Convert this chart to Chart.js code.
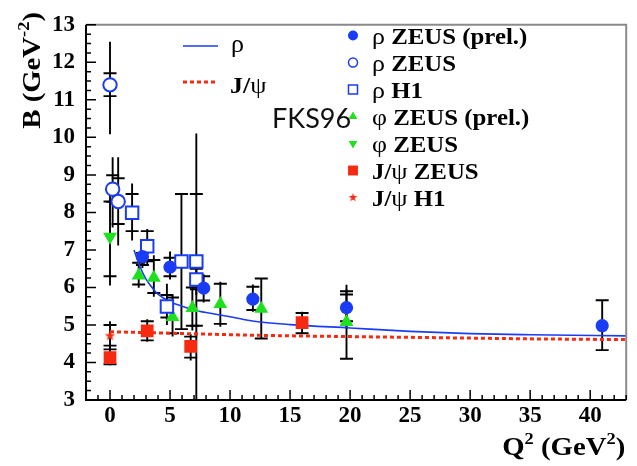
<!DOCTYPE html>
<html>
<head>
<meta charset="utf-8">
<script src="https://cdn.jsdelivr.net/npm/chart.js@4.4.1/dist/chart.umd.min.js"></script>
<style>
  html, body { margin: 0; padding: 0; background: #fff; }
  canvas { display: block; }
</style>
</head>
<body>
<canvas id="chart" width="637" height="466"></canvas>
<script>
const xTicks = [0, 5, 10, 15, 20, 25, 30, 35, 40]
const yTicks = [3, 4, 5, 6, 7, 8, 9, 10, 11, 12, 13]

// error intervals are [low, high] in B, stat = inner ticks, tot = full bar
const rhoPrelQ2 = [2.7, 5.0, 7.8, 11.9, 19.7, 41.0]
const rhoPrelB = [6.82, 6.54, 5.98, 5.69, 5.46, 4.98]
const rhoPrelStat = [[6.6, 6.92], [6.3, 6.79], [5.65, 6.3], [5.4, 6.02], [5.1, 5.81], [4.33, 5.66]]
const rhoPrelTot = [[6.52, 6.96], [6.21, 6.96], [5.6, 6.35], [5.35, 6.08], [4.9, 6.07], [4.33, 5.66]]

const rhoZeusQ2 = [0, 0.22, 0.68]
const rhoZeusB = [11.4, 8.62, 8.29]
const rhoZeusStat = [[11.1, 11.71], [8.28, 8.99], [7.69, 8.91]]
const rhoZeusTot = [[10.08, 12.55], [7.6, 9.47], [7.12, 9.47]]

const rhoH1Q2 = [1.84, 3.1, 4.74, 5.95, 7.19, 7.19]
const rhoH1B = [7.99, 7.1, 5.49, 6.69, 6.69, 6.21]
const rhoH1Stat = [[7.5, 8.49], [6.7, 7.5], [5.2, 5.8], [4.89, 8.49], [4.98, 8.49], [5.95, 6.5]]
const rhoH1Tot = [[7.25, 8.77], [6.6, 7.56], [5.0, 6.1], [4.89, 8.49], [2.5, 10.1], [5.8, 6.6]]

const phiPrelQ2 = [2.39, 3.65, 5.21, 6.86, 9.19, 12.6, 19.7]
const phiPrelB = [6.32, 6.26, 5.21, 5.45, 5.56, 5.43, 5.08]
const phiPrelStat = [[6.08, 6.66], [5.85, 6.73], [4.78, 5.73], [4.98, 6.0], [5.03, 6.1], [4.64, 6.24], [4.1, 5.9]]
const phiPrelTot = [[5.99, 6.75], [5.75, 6.86], [4.69, 5.8], [4.85, 6.13], [4.95, 6.15], [4.64, 6.24], [4.1, 5.95]]

const phiZeusQ2 = [0]
const phiZeusB = [7.35]
const phiZeusStat = [[6.3, 8.29]]
const phiZeusTot = [[6.05, 8.5]]

const jpsiZeusQ2 = [0, 3.1, 6.72, 16.0]
const jpsiZeusB = [4.13, 4.84, 4.43, 5.06]
const jpsiZeusStat = [[3.95, 4.35], [4.59, 5.1], [4.13, 4.69], [4.78, 5.32]]
const jpsiZeusTot = [[3.92, 4.4], [4.55, 5.15], [4.05, 4.75], [4.75, 5.35]]

const jpsiH1Q2 = [0]
const jpsiH1B = [4.71]
const jpsiH1Stat = [[4.45, 5.0]]
const jpsiH1Tot = [[4.35, 5.1]]

// FKS96 curves
const rhoFitQ2 = [2.0, 2.5, 3.0, 3.5, 4.0, 5.0, 6.0, 7.0, 8.0, 10.0, 12.0, 15.0, 20.0, 25.0, 30.0, 35.0, 43.0]
const rhoFitB = [7.0, 6.55, 6.22, 6.0, 5.82, 5.62, 5.5, 5.4, 5.33, 5.22, 5.1, 5.01, 4.92, 4.83, 4.77, 4.74, 4.71]
const jpsiFitQ2 = [0, 5, 10, 15, 20, 25, 30, 35, 43]
const jpsiFitB = [4.82, 4.78, 4.74, 4.71, 4.69, 4.67, 4.65, 4.63, 4.61]

const blue = '#1a3cf5'
const green = '#1ee01e'
const red = '#f52a10'

const serifB = s => `bold ${s}px "Liberation Serif", "DejaVu Serif", serif`
const serifN = s => `${s}px "Liberation Serif", "DejaVu Serif", serif`

function pts(q, b) {
    return q.map((x, i) => ({x: x, y: b[i]}))
}

function makeStar(r, color) {
    const c = document.createElement('canvas')
    c.width = c.height = Math.ceil(r * 2 + 2)
    const g = c.getContext('2d')
    g.fillStyle = color
    g.beginPath()
    for (let k = 0; k < 10; k++) {
        const rr = k % 2 ? r * 0.42 : r
        const ang = -Math.PI / 2 + k * Math.PI / 5
        g.lineTo(c.width / 2 + rr * Math.cos(ang), c.height / 2 + rr * Math.sin(ang))
    }
    g.closePath()
    g.fill()
    return c
}

// draw a row of text pieces with different fonts, stretched by sx
function drawRuns(ctx, runs, x, y, align, sx) {
    sx = sx || 1
    let w = 0
    runs.forEach(r => { ctx.font = r.font; w += ctx.measureText(r.text).width })
    ctx.save()
    ctx.translate(align === 'right' ? x - w * sx : x, y)
    ctx.scale(sx, 1)
    ctx.textAlign = 'left'
    ctx.textBaseline = 'alphabetic'
    let cx = 0
    runs.forEach(r => {
        ctx.font = r.font
        ctx.fillText(r.text, cx, r.dy || 0)
        cx += ctx.measureText(r.text).width
    })
    ctx.restore()
}

const errorBars = {
    id: 'errorBars',
    beforeDatasetsDraw(chart) {
        const {ctx, chartArea: a, scales: {x, y}} = chart
        ctx.save()
        ctx.beginPath()
        ctx.rect(a.left, a.top, a.right - a.left, a.bottom - a.top)
        ctx.clip()
        ctx.strokeStyle = '#000'
        ctx.lineWidth = 1.9
        chart.data.datasets.forEach(ds => {
            if (!ds.stat) return
            ds.data.forEach((p, i) => {
                const px = x.getPixelForValue(p.x)
                ctx.beginPath()
                ctx.moveTo(px, y.getPixelForValue(ds.tot[i][0]))
                ctx.lineTo(px, y.getPixelForValue(ds.tot[i][1]))
                ds.stat[i].forEach(v => {
                    const py = y.getPixelForValue(v)
                    ctx.moveTo(px - 6.5, py)
                    ctx.lineTo(px + 6.5, py)
                })
                ctx.stroke()
            })
        })
        ctx.restore()
    }
}

const legendItems = [
    {greek: 'ρ', text: ' ZEUS (prel.)', style: 'circle', r: 5, fill: blue, stroke: blue, bw: 0},
    {greek: 'ρ', text: ' ZEUS', style: 'circle', r: 4.5, fill: '#fff', stroke: blue, bw: 1.5},
    {greek: 'ρ', text: ' H1', style: 'rect', r: 6.4, fill: '#fff', stroke: blue, bw: 1.5},
    {greek: 'φ', text: ' ZEUS (prel.)', style: 'triangle', r: 5, fill: green, stroke: green, bw: 0},
    {greek: 'φ', text: ' ZEUS', style: 'triangle', rot: 180, r: 5, fill: green, stroke: green, bw: 0},
    {pre: 'J/', greek: 'ψ', text: ' ZEUS', style: 'rect', r: 7, fill: red, stroke: red, bw: 0},
    {pre: 'J/', greek: 'ψ', text: ' H1', style: makeStar(4.5, red), r: 4.5, fill: red, stroke: red, bw: 0}
]

const frame = {
    id: 'frame',
    afterDraw(chart) {
        const {ctx, chartArea: a, scales: {x, y}} = chart
        ctx.save()
        ctx.strokeStyle = '#8a8a8a'
        ctx.lineWidth = 2
        ctx.beginPath()
        ctx.moveTo(a.left, a.top)
        ctx.lineTo(a.right, a.top)
        ctx.lineTo(a.right, a.bottom)
        ctx.stroke()

        ctx.strokeStyle = '#000'
        ctx.beginPath()
        ctx.moveTo(a.left, a.top)
        ctx.lineTo(a.left, a.bottom)
        ctx.lineTo(a.right, a.bottom)
        ctx.stroke()

        ctx.lineWidth = 1.5
        ctx.beginPath()
        for (let v = y.min; v <= y.max + 1e-6; v += 0.25) {
            const py = y.getPixelForValue(v)
            const len = Math.abs(v - Math.round(v)) < 1e-6 ? 10 : 5
            ctx.moveTo(a.left, py)
            ctx.lineTo(a.left + len, py)
        }
        for (let v = Math.ceil(x.min); v <= x.max; v += 1) {
            const px = x.getPixelForValue(v)
            const len = v % 5 === 0 ? 10 : 5
            ctx.moveTo(px, a.bottom)
            ctx.lineTo(px, a.bottom - len)
        }
        ctx.stroke()

        // axis titles
        ctx.fillStyle = '#000'
        drawRuns(ctx, [
            {text: 'Q', font: serifB(25)},
            {text: '2', font: serifB(16), dy: -11},
            {text: ' (GeV', font: serifB(25)},
            {text: '2', font: serifB(16), dy: -11},
            {text: ')', font: serifB(25)}
        ], a.right - 1, 455, 'right', 1.15)

        ctx.save()
        ctx.translate(40, 12)
        ctx.rotate(-Math.PI / 2)
        drawRuns(ctx, [
            {text: 'B (GeV', font: serifB(25)},
            {text: '-2', font: serifB(16), dy: -11},
            {text: ')', font: serifB(25)}
        ], 0, 0, 'right', 1.15)
        ctx.restore()

        // fit legend
        ctx.lineWidth = 1.6
        ctx.strokeStyle = blue
        ctx.beginPath()
        ctx.moveTo(183, 46)
        ctx.lineTo(218, 46)
        ctx.stroke()
        ctx.strokeStyle = red
        ctx.lineWidth = 3
        ctx.setLineDash([4, 3])
        ctx.beginPath()
        ctx.moveTo(183, 82)
        ctx.lineTo(218, 82)
        ctx.stroke()
        ctx.setLineDash([])
        drawRuns(ctx, [{text: 'ρ', font: serifN(26)}], 231, 52, 'left')
        drawRuns(ctx, [{text: 'J/', font: serifB(24)}, {text: 'ψ', font: serifN(24)}], 230, 93, 'left', 1.08)

        ctx.font = '27px Lato, "Open Sans", sans-serif'
        ctx.fillStyle = '#111'
        ctx.fillText('FKS96', 272, 128)

        // data legend
        ctx.fillStyle = '#000'
        legendItems.forEach((it, i) => {
            const cy = 35.5 + i * 27
            ctx.save()
            ctx.fillStyle = it.fill
            ctx.strokeStyle = it.stroke
            ctx.lineWidth = it.bw
            Chart.helpers.drawPoint(ctx, {pointStyle: it.style, radius: it.r, rotation: it.rot || 0, borderWidth: it.bw}, 353, cy)
            ctx.restore()
            const runs = []
            if (it.pre) runs.push({text: it.pre, font: serifB(23)})
            runs.push({text: it.greek, font: serifN(24)})
            runs.push({text: it.text, font: serifB(23)})
            drawRuns(ctx, runs, 372, cy + 8, 'left', 1.08)
        })
        ctx.restore()
    }
}

const star = makeStar(5.5, red)

new Chart(document.getElementById('chart'), {
    type: 'scatter',
    data: {
        datasets: [
            {label: 'rho ZEUS (prel.)', data: pts(rhoPrelQ2, rhoPrelB), stat: rhoPrelStat, tot: rhoPrelTot,
             pointStyle: 'circle', pointRadius: 6.6, backgroundColor: blue, borderColor: blue, borderWidth: 0},
            {label: 'rho ZEUS', data: pts(rhoZeusQ2, rhoZeusB), stat: rhoZeusStat, tot: rhoZeusTot,
             pointStyle: 'circle', pointRadius: 6.7, backgroundColor: '#fff', borderColor: blue, borderWidth: 2},
            {label: 'rho H1', data: pts(rhoH1Q2, rhoH1B), stat: rhoH1Stat, tot: rhoH1Tot,
             pointStyle: 'rect', pointRadius: 8.8, backgroundColor: '#fff', borderColor: blue, borderWidth: 2},
            {label: 'phi ZEUS (prel.)', data: pts(phiPrelQ2, phiPrelB), stat: phiPrelStat, tot: phiPrelTot,
             pointStyle: 'triangle', pointRadius: 8, backgroundColor: green, borderColor: green, borderWidth: 0},
            {label: 'phi ZEUS', data: pts(phiZeusQ2, phiZeusB), stat: phiZeusStat, tot: phiZeusTot,
             pointStyle: 'triangle', rotation: 180, pointRadius: 8, backgroundColor: green, borderColor: green, borderWidth: 0},
            {label: 'J/psi ZEUS', data: pts(jpsiZeusQ2, jpsiZeusB), stat: jpsiZeusStat, tot: jpsiZeusTot,
             pointStyle: 'rect', pointRadius: 9, backgroundColor: red, borderColor: red, borderWidth: 0},
            {label: 'J/psi H1', data: pts(jpsiH1Q2, jpsiH1B), stat: jpsiH1Stat, tot: jpsiH1Tot,
             pointStyle: star, pointRadius: 6, backgroundColor: red, borderColor: red},
            {label: 'rho fit', data: pts(rhoFitQ2, rhoFitB), showLine: true, pointRadius: 0,
             borderColor: blue, borderWidth: 1.6, cubicInterpolationMode: 'monotone'},
            {label: 'J/psi fit', data: pts(jpsiFitQ2, jpsiFitB), showLine: true, pointRadius: 0,
             borderColor: red, borderWidth: 3, borderDash: [4, 3], cubicInterpolationMode: 'monotone'}
        ]
    },
    plugins: [errorBars, frame],
    options: {
        responsive: false,
        animation: false,
        events: [],
        layout: {padding: {top: 16, right: 5, left: 0, bottom: 0}},
        plugins: {legend: {display: false}, tooltip: {enabled: false}},
        scales: {
            x: {
                type: 'linear', min: -2, max: 43,
                afterBuildTicks: s => { s.ticks = xTicks.map(v => ({value: v})) },
                afterFit: s => { s.height = 66 },
                grid: {display: false, drawTicks: false},
                border: {display: false},
                ticks: {color: '#000', font: {family: '"Liberation Serif", serif', weight: 'bold', size: 23}, padding: 2, maxRotation: 0, autoSkip: false}
            },
            y: {
                type: 'linear', min: 3, max: 13,
                afterBuildTicks: s => { s.ticks = yTicks.map(v => ({value: v})) },
                afterFit: s => { s.width = 86 },
                grid: {display: false, drawTicks: false},
                border: {display: false},
                ticks: {color: '#000', font: {family: '"Liberation Serif", serif', weight: 'bold', size: 23}, padding: 11, autoSkip: false}
            }
        }
    }
})
</script>
</body>
</html>
